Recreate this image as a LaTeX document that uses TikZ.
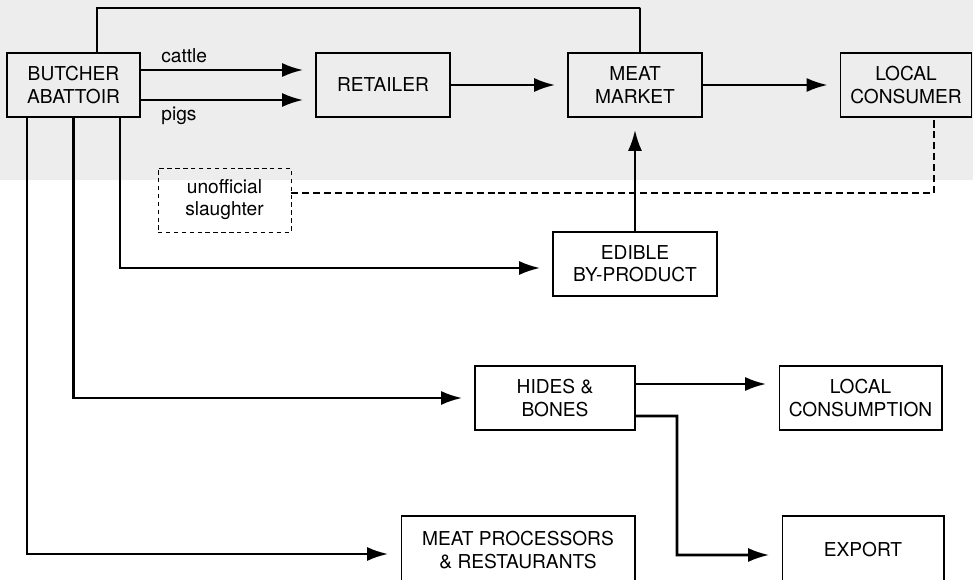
\documentclass[tikz,border=0pt]{standalone}
\usepackage{fontspec}
\setmainfont{TeX Gyre Heros}
\usepackage{tikz}
\usetikzlibrary{arrows.meta}

\begin{document}
\begin{tikzpicture}[x=0.02cm, y=-0.02cm,
  block/.style={draw, rectangle, line width=0.6pt, align=center, inner sep=2pt,
    minimum height=1.28cm, font=\fontsize{10.9}{12.6}\selectfont},
  informal/.style={block, dash pattern=on 2.5pt off 2pt, line width=0.5pt},
  flow/.style={line width=1.45pt, -{Latex[length=12pt,width=8pt]}, shorten >=7pt},
  link/.style={line width=1.45pt},
  dotted link/.style={line width=1.5pt, dash pattern=on 4pt off 2.2pt},
  lbl/.style={font=\fontsize{10.9}{12.6}\selectfont}]
  \useasboundingbox (0,0) rectangle (973,580);
  % scan shading at the top
  \fill[black!7] (0,0) rectangle (973,180);

  \node (butcher) [block, minimum width=2.66cm] at (73.5,85) {BUTCHER\\ABATTOIR};
  \node (retailer) [block, minimum width=2.68cm] at (383,85) {RETAILER};
  \node (market) [block, minimum width=2.68cm] at (635,85) {MEAT\\MARKET};
  \node (consumer) [block, minimum width=2.62cm] at (906,85) {LOCAL\\CONSUMER};
  \node (unofficial) [informal, minimum width=2.66cm] at (224.5,200) {unofficial\\slaughter};
  \node (edible) [block, minimum width=3.28cm] at (635,264) {EDIBLE\\BY-PRODUCT};
  \node (hides) [block, minimum width=3.2cm] at (555,398) {HIDES \&\\BONES};
  \node (localcons) [block, minimum width=3.26cm] at (860.5,398) {LOCAL\\CONSUMPTION};
  \node (procs) [block, minimum width=4.68cm, minimum height=1.36cm] at (518,550) {MEAT PROCESSORS\\\& RESTAURANTS};
  \node (export) [block, minimum width=3.24cm, minimum height=1.36cm] at (863,550) {EXPORT};

  \coordinate (topC) at (640,8);
  \coordinate (exbend) at (677,555);

  \draw [flow] ([yshift=0.3cm]butcher.east) -- ([yshift=0.3cm]retailer.west)
    node [lbl, pos=0.25, above] (cattlelbl) {cattle};
  \draw [flow] ([yshift=-0.3cm]butcher.east) -- ([yshift=-0.3cm]retailer.west)
    node [lbl, pos=0.22, below] (pigslbl) {pigs};
  \draw [flow] (retailer) -- (market);
  \draw [flow] (market) -- (consumer);
  \draw [link] ([xshift=0.47cm]butcher.north) |- (topC) -| ([xshift=0.1cm]market.north);
  \draw [dotted link] ([yshift=0.14cm]unofficial.east) -| ([xshift=0.56cm]consumer.south);
  \draw [flow] (edible) -- (market);
  \draw [flow] ([xshift=0.93cm]butcher.south) |- ([yshift=-0.08cm]edible.west);
  \draw [flow] (butcher.south) |- (hides.west);
  \draw [flow] ([xshift=-0.93cm]butcher.south) |- ([yshift=-0.08cm]procs.west);
  \draw [flow] ([yshift=0.28cm]hides.east) -- ([yshift=0.28cm]localcons.west);
  \draw [flow] ([yshift=-0.36cm]hides.east) -| (exbend) -- ([yshift=-0.1cm]export.west);
\end{tikzpicture}
\end{document}
